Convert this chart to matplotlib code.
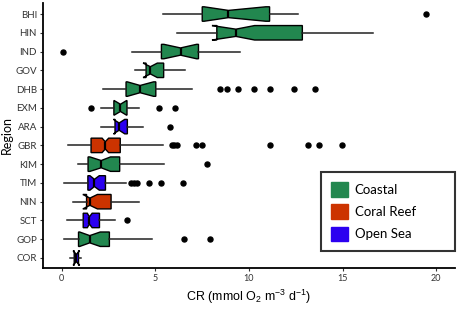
import matplotlib
matplotlib.use("Agg")
import matplotlib.pyplot as plt
from matplotlib.patches import Patch

# ---- data (top to bottom as displayed) ----
regions = ["BHI", "HIN", "IND", "GOV", "DHB", "EXM", "ARA", "GBR", "KIM", "TIM", "NIN", "SCT", "GOP", "COR"]
category = ["Coastal", "Coastal", "Coastal", "Coastal", "Coastal", "Coastal", "Open Sea", "Coral Reef",
            "Coastal", "Open Sea", "Coral Reef", "Open Sea", "Coastal", "Open Sea"]
whislo = [5.4, 6.15, 3.75, 3.93, 2.22, 2.08, 2.08, 0.34, 0.87, 0.14, 0.62, 0.27, 0.14, 0.46]
q1 = [7.5, 8.28, 5.32, 4.5, 3.43, 2.78, 2.84, 1.56, 1.4, 1.39, 1.32, 1.14, 0.89, 0.66]
med = [8.9, 9.3, 6.34, 4.73, 4.18, 3.13, 3.06, 2.32, 2.1, 1.74, 1.5, 1.47, 1.49, 0.78]
q3 = [11.1, 12.85, 7.3, 5.44, 5.02, 3.48, 3.5, 3.12, 3.09, 2.33, 2.63, 2.01, 2.54, 0.89]
whishi = [12.6, 16.65, 9.53, 6.57, 6.97, 4.13, 4.34, 5.4, 5.46, 3.45, 4.1, 2.83, 4.83, 1.03]
notch_lo = [7.6, 8.02, 5.45, 4.34, 3.5, 2.8, 2.76, 2.15, 1.5, 1.5, 1.12, 1.36, 0.95, 0.6]
notch_hi = [10.9, 10.3, 7.2, 5.1, 4.9, 3.45, 3.36, 2.5, 2.6, 2.0, 1.9, 1.62, 2.05, 0.95]
outliers = [
    [19.45],
    [],
    [0.07],
    [],
    [8.46, 8.82, 9.42, 10.27, 11.12, 12.4, 13.52],
    [1.57, 5.21, 6.04],
    [5.76],
    [5.86, 5.99, 6.13, 7.16, 7.48, 11.12, 13.17, 13.76, 14.95],
    [7.77],
    [3.68, 3.84, 4.04, 4.66, 5.28, 6.47],
    [],
    [3.5],
    [6.5, 7.89],
    [],
]
legend_labels = ["Coastal", "Coral Reef", "Open Sea"]
colors = {"Coastal": "#22874F", "Coral Reef": "#CC3300", "Open Sea": "#2B00F0"}
x_ticks = [0, 5, 10, 15, 20]

plt.rcParams['font.family'] = ['Lato', 'DejaVu Sans']

fig = plt.figure(figsize=(4.59, 3.10), dpi=100)
ax = fig.add_axes([0.094, 0.1355, 0.897, 0.855])

n = len(regions)
stats = []
for i in range(n):
    stats.append(dict(label=regions[i], whislo=whislo[i], q1=q1[i], med=med[i], q3=q3[i],
                      whishi=whishi[i], cilo=notch_lo[i], cihi=notch_hi[i], fliers=outliers[i]))
positions = [n - 1 - i for i in range(n)]

bp = ax.bxp(stats, positions=positions, vert=False, widths=0.77, patch_artist=True,
            shownotches=True, showcaps=False, showfliers=True,
            boxprops=dict(edgecolor="black", linewidth=1.0),
            medianprops=dict(color="black", linewidth=1.6),
            whiskerprops=dict(color="#222222", linewidth=1.1),
            flierprops=dict(marker="o", markerfacecolor="black", markeredgecolor="black",
                            markersize=3.6, linestyle="none"))
for patch, cat in zip(bp["boxes"], category):
    patch.set_facecolor(colors[cat])

ax.set_xlim(-1, 21)
ax.set_ylim(-0.533, 13.59)
ax.set_xticks(x_ticks)
ax.set_xticklabels([str(t) for t in x_ticks], fontsize=6.5)
ax.set_yticks(positions)
ax.set_yticklabels(regions, fontsize=7, color="#333333")
ax.tick_params(axis="both", length=2.5, width=0.8, color="#333333", pad=2)
ax.tick_params(axis="x", colors="#333333")

for s in ["top", "right"]:
    ax.spines[s].set_visible(False)
for s in ["left", "bottom"]:
    ax.spines[s].set_linewidth(1.3)
    ax.spines[s].set_color("black")

ax.set_xlabel(r"CR (mmol O$_\mathregular{2}$ m$^\mathregular{-3}$ d$^\mathregular{-1}$)",
              fontsize=9, family=["Liberation Sans", "DejaVu Sans"], labelpad=3)
ax.set_ylabel("Region", fontsize=9, labelpad=2)

handles = [Patch(facecolor=colors[c], edgecolor=colors[c], label=c) for c in legend_labels]
leg = ax.legend(handles=handles, loc="lower left", bbox_to_anchor=(0.675, 0.064, 0.325, 0.3),
                mode="expand", fontsize=9.5, frameon=True, fancybox=False,
                handlelength=1.3, handleheight=1.3, handletextpad=0.5, borderpad=0.75,
                labelspacing=0.6, borderaxespad=0)
leg.get_frame().set_edgecolor("black")
leg.get_frame().set_linewidth(1.5)

fig.savefig("out.png", dpi=100)
